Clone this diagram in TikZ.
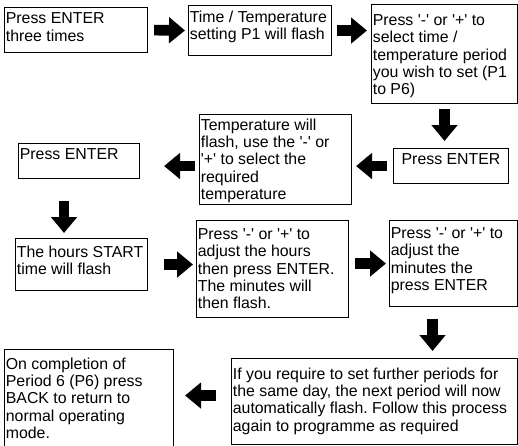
\documentclass[tikz,border=0pt]{standalone}
\usepackage{fontspec}
\setmainfont{Liberation Sans}
\usetikzlibrary{arrows.meta,calc}
\frenchspacing

% straight quote and a top-aligned text block of W x H pixels
\newcommand{\tq}{\textquotesingle}
\newcommand{\steptext}[4][0pt]{%
  \parbox[t][\dimexpr #3pt*3/4-6pt\relax][t]{\dimexpr #2pt*3/4-2pt\relax}{\raggedright\vspace*{#1}#4}}

\tikzset{
  stepbox/.style={draw, line width=0.8pt, anchor=north west, inner xsep=1pt, inner ysep=3pt,
    font=\fontsize{11.9}{13}\selectfont},
  blockarrow/.style={line width=8pt, -{Triangle[length=12pt,width=19pt]}}
}

\begin{document}
\begin{tikzpicture}[x=0.75pt,y=-0.75pt]
    \clip (0,0) rectangle (518,446);

    % Top row
    \node[stepbox] (enter3) at (4,7) {\steptext[1pt]{143}{45}{Press ENTER\\three times}};
    \node[stepbox] (p1flash) at (188,5) {\steptext[0.75pt]{143}{50}{Time / Temperature\\setting P1 will flash}};
    \node[stepbox] (select) at (371,4) {\steptext[4.5pt]{146}{99}{Press \tq-\tq{} or \tq+\tq{} to\\select time /\\temperature period\\you wish to set (P1\\to P6)}};

    % Second row
    \node[stepbox] (enterR) at (393,148) {\steptext[0.75pt]{115}{35}{\centering Press ENTER}};
    \node[stepbox] (tempflash) at (199,114) {\steptext{152}{90}{Temperature will\\flash, use the \tq-\tq{} or\\\tq+\tq{} to select the\\required\\temperature}};
    \node[stepbox] (enterL) at (18,143) {\steptext[0.75pt]{121}{35}{Press ENTER}};

    % Third row
    \node[stepbox] (hours) at (15,238) {\steptext[2.25pt]{132}{52}{The hours START\\time will flash}};
    \node[stepbox] (adjhours) at (196,220) {\steptext[3pt]{152}{97}{Press \tq-\tq{} or \tq+\tq{} to\\adjust the hours\\then press ENTER.\\The minutes will\\then flash.}};
    \node[stepbox] (adjmins) at (389,220) {\steptext[2.25pt]{128}{86}{Press \tq-\tq{} or \tq+\tq{} to\\adjust the\\minutes the\\press ENTER}};

    % Bottom row
    \node[stepbox] (further) at (231,358) {\steptext[3.75pt]{286}{86}{If you require to set further periods for\\the same day, the next period will now\\automatically flash. Follow this process\\again to programme as required}};
    \node[stepbox] (finish) at (4,349) {\steptext[3pt]{169}{100}{On completion of\\Period 6 (P6) press\\BACK to return to\\normal operating\\mode.}};

    % Arrows
    \coordinate (downL) at ([xshift=-11.25pt]enterL.south);
    \coordinate (downR) at ([xshift=-15.75pt]adjmins.south);
    \coordinate (leftB) at ([yshift=4.5pt]further.west);

    \draw[blockarrow, shorten <=4.5pt, shorten >=2.25pt] (enter3.east) -- (p1flash.west);
    \draw[blockarrow, shorten <=3.75pt, shorten >=3pt] (p1flash.east) -- (p1flash.east -| select.west);
    \draw[blockarrow, shorten <=3.75pt, shorten >=5.25pt] (select.south) -- (select.south |- enterR.north);
    \draw[blockarrow, shorten <=4.5pt, shorten >=3pt] (enterR.west) -- (enterR.west -| tempflash.east);
    \draw[blockarrow, shorten <=3pt, shorten >=18pt] (tempflash.west |- enterR.west) -- (enterL.east |- enterR.west);
    \draw[blockarrow, shorten <=16.5pt, shorten >=3.75pt] (downL) -- (downL |- hours.north);
    \draw[blockarrow, shorten <=12pt, shorten >=2.25pt] (hours.east) -- (hours.east -| adjhours.west);
    \draw[blockarrow, shorten <=4.5pt, shorten >=2.25pt] (adjmins.west -| adjhours.east) -- (adjmins.west);
    \draw[blockarrow, shorten <=9pt, shorten >=5.25pt] (downR) -- (downR |- further.north);
    \draw[blockarrow, shorten <=11.25pt, shorten >=8.25pt] (leftB) -- (leftB -| finish.east);
\end{tikzpicture}
\end{document}
